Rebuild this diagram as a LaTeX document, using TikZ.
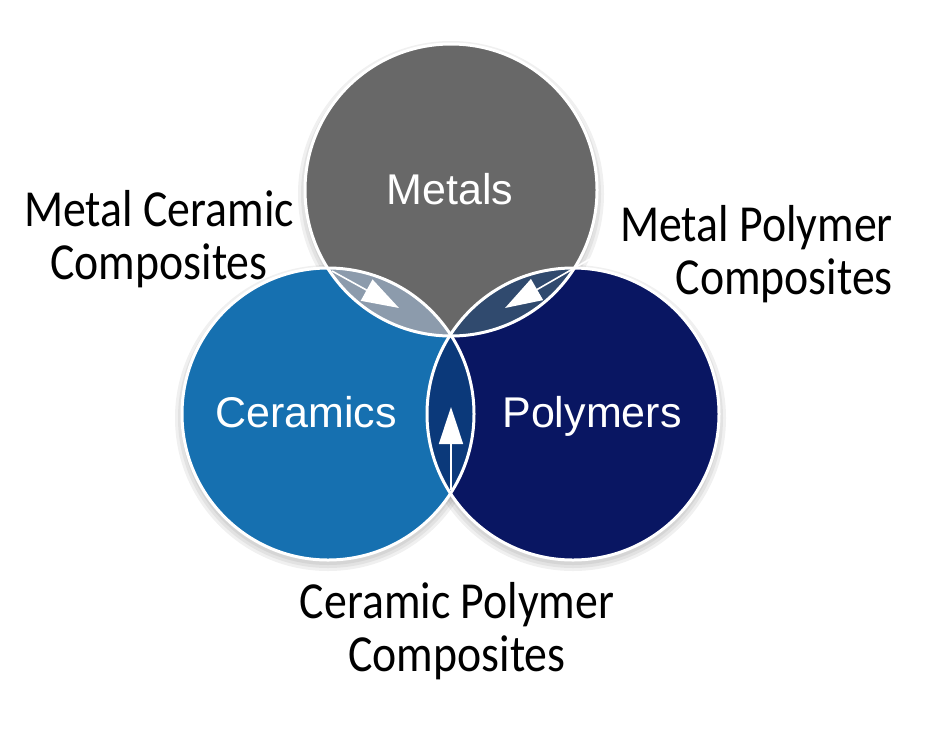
\documentclass[tikz,border=0pt]{standalone}
\usepackage{fontspec}
\setmainfont[FakeStretch=0.88]{Carlito}
\newfontfamily\arialfont{Liberation Sans}
\usetikzlibrary{arrows.meta}
\definecolor{metalgray}{RGB}{104,104,104}
\definecolor{ceramblue}{RGB}{22,112,176}
\definecolor{polynavy}{RGB}{9,22,98}
\definecolor{lensmc}{RGB}{140,155,172}
\definecolor{lensmp}{RGB}{48,74,110}
\definecolor{lenscp}{RGB}{11,57,122}
\begin{document}
\begin{tikzpicture}[x=1pt,y=-1pt,
  ring/.style={draw=white,line width=3pt},
  shadowfill/.style={black,opacity=0.06},
  arr/.style={white,line width=1.6pt,-{Triangle[length=37pt,width=24pt]}},
  matlbl/.style={font=\arialfont\fontsize{43}{50}\selectfont,text=white,inner sep=0pt,anchor=base},
  lbl/.style={font=\fontsize{52}{53}\selectfont,inner sep=0pt}]
   \useasboundingbox (0,0) rectangle (944,729);
   % 円の中心
   \coordinate (met) at (451,190);
   \coordinate (cer) at (328,414);
   \coordinate (pol) at (573,414);

   % 影
   \foreach \c in {met,cer,pol}
     \foreach \r in {147,150,153}
       \fill[shadowfill] ([yshift=-4pt]\c) circle[radius=\r pt];

   % 円
   \fill[metalgray] (met) circle[radius=146pt];
   \fill[ceramblue] (cer) circle[radius=146pt];
   \fill[polynavy] (pol) circle[radius=146pt];

   % 重なり
   \begin{scope}
     \clip (met) circle[radius=146pt];
     \fill[lensmc] (cer) circle[radius=146pt];
     \fill[lensmp] (pol) circle[radius=146pt];
   \end{scope}
   \begin{scope}
     \clip (cer) circle[radius=146pt];
     \fill[lenscp] (pol) circle[radius=146pt];
   \end{scope}

   \draw[ring] (met) circle[radius=146pt];
   \draw[ring] (cer) circle[radius=146pt];
   \draw[ring] (pol) circle[radius=146pt];

   % 矢印
   \coordinate (mcA) at (332,271);
   \coordinate (mcB) at (399,308);
   \coordinate (mpA) at (590,259);
   \coordinate (mpB) at (505,308);
   \coordinate (cpA) at (451,490);
   \coordinate (cpB) at (451,407);
   \draw[arr] (mcA) -- (mcB);
   \draw[arr] (mpA) -- (mpB);
   \draw[arr] (cpA) -- (cpB);

   % ラベル
   \node[matlbl] (metals) at (450,204) {Metals};
   \node[matlbl] (ceramics) at (306,427) {Ceramics};
   \node[matlbl] (polymers) at (592,427) {Polymers};

   \node[lbl,align=center,anchor=base] (mc) at (159,279) {Metal Ceramic\\Composites};
   \node[lbl,align=right,anchor=base east] (mp) at (893,294) {Metal Polymer\\Composites};
   \node[lbl,align=center,anchor=base] (cp) at (457,671) {Ceramic Polymer\\Composites};
\end{tikzpicture}
\end{document}
